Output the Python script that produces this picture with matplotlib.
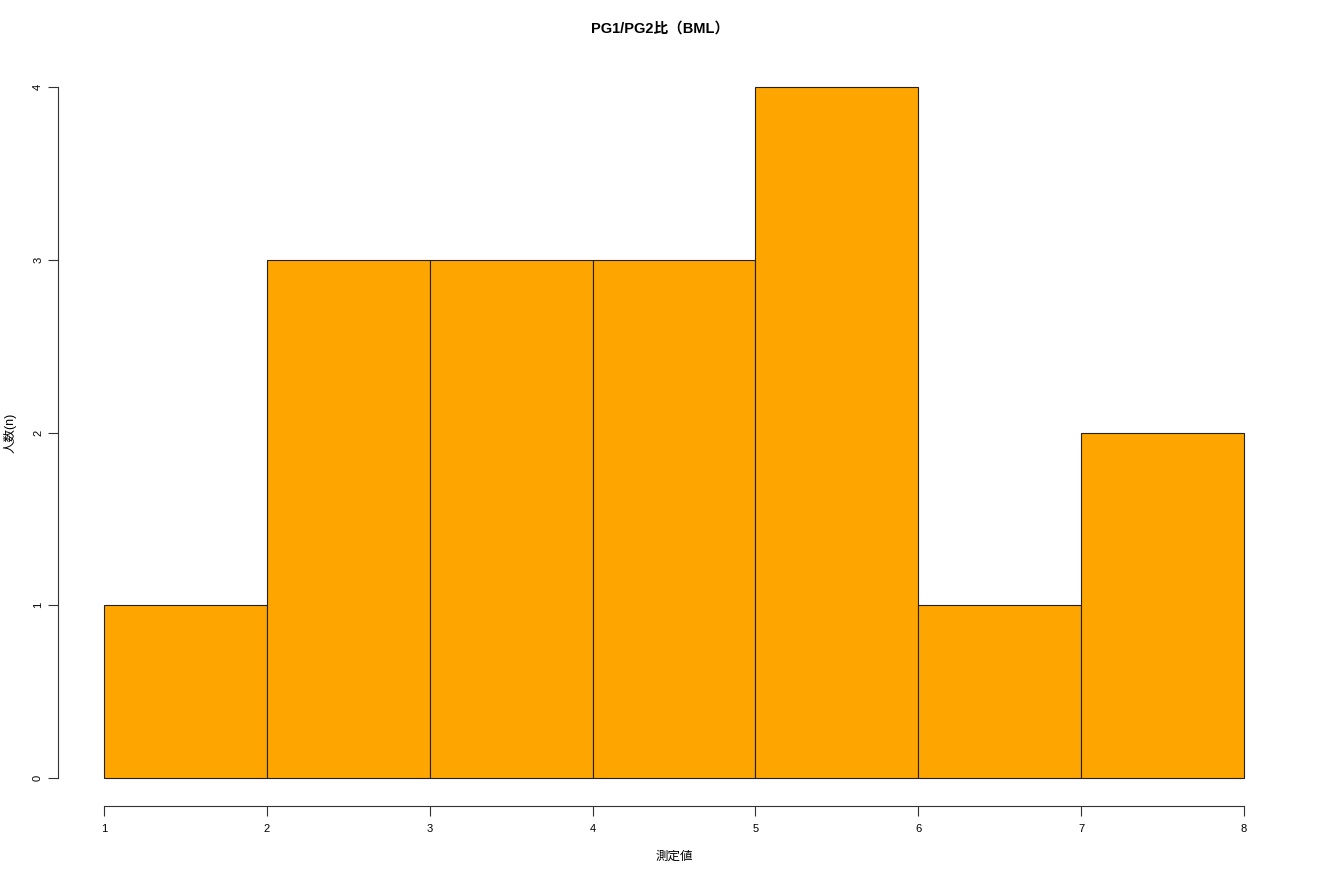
import matplotlib
matplotlib.use("Agg")
import matplotlib.pyplot as plt
import numpy as np

plt.rcParams['font.family'] = ['Liberation Sans', 'Noto Sans CJK JP', 'DejaVu Sans']

# histogram of PG1/PG2 ratio
bin_edges = [1, 2, 3, 4, 5, 6, 7, 8]
counts = [1, 3, 3, 3, 4, 1, 2]
x_ticks = [1, 2, 3, 4, 5, 6, 7, 8]
y_ticks = [0, 1, 2, 3, 4]

fig = plt.figure(figsize=(13.2, 8.8), dpi=100)
ax = fig.add_axes([0.0442, 0.0845, 0.9328, 0.848])

lefts = np.array(bin_edges[:-1])
widths = np.diff(bin_edges)
ax.bar(lefts, counts, width=widths, align="edge", color="#FFA500",
       edgecolor="#222222", linewidth=0.8)

ax.set_xlim(1 - 0.28, 8 + 0.28)
ax.set_ylim(-0.16, 4.16)

for s in ("top", "right"):
    ax.spines[s].set_visible(False)
ax.spines["left"].set_bounds(0, 4)
ax.spines["bottom"].set_bounds(1, 8)
for s in ("left", "bottom"):
    ax.spines[s].set_linewidth(0.8)
    ax.spines[s].set_color("#333333")

ax.set_xticks(x_ticks)
ax.set_yticks(y_ticks)
ax.tick_params(axis="both", direction="out", length=7, width=0.8,
               labelsize=8, color="#333333")
ax.tick_params(axis="x", pad=6)
ax.tick_params(axis="y", pad=4)
for lbl in ax.get_yticklabels():
    lbl.set_rotation(90)
    lbl.set_va("center")

ax.set_xlabel("測定値", fontsize=9, labelpad=12)
ax.set_ylabel("人数(n)", fontsize=9, labelpad=12)
fig.suptitle("PG1/PG2比（BML）", fontsize=10.5, fontweight="bold", y=0.975)

fig.savefig("out.png", dpi=100)
